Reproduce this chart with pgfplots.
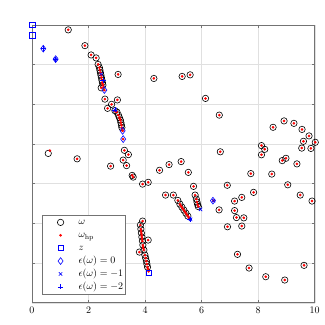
\documentclass[border=0pt]{standalone}
\usepackage{pgfplots}
\pgfplotsset{compat=1.18}
\usetikzlibrary{plotmarks}

\definecolor{gridgray}{rgb}{0.88,0.88,0.88}
\definecolor{axisgray}{rgb}{0.45,0.45,0.45}

\begin{document}
\begin{tikzpicture}
\begin{axis}[
	scale only axis,
	width=283pt,
	height=278pt,
	xmin=0, xmax=10,
	ymin=0, ymax=7,
	xtick={0,2,...,10},
	ytick={0,1,...,7},
	yticklabels={},
	grid=major,
	major grid style={gridgray, line width=0.4pt},
	tick align=inside,
	major tick length=2.8pt,
	tick style={axisgray, line width=0.5pt},
	axis line style={axisgray, line width=0.5pt},
	xticklabel style={yshift=-1pt},
	clip=false,
	legend cell align=left,
	legend image code/.code={
		\path (0pt,0pt) (34pt,0pt);
		\draw[#1] plot coordinates {(17pt,0pt)};
	},
	legend style={
		at={(0.034,0.030)}, anchor=south west,
		draw=axisgray, fill=white, line width=0.5pt,
		font=\normalsize,
		row sep=1.3pt,
		inner xsep=1.5pt, inner ysep=1.5pt,
		nodes={inner sep=0.8pt, text height=7.5pt, text depth=2.5pt},
	},
]
% omega
\addplot[only marks, mark=o, mark size=3.2pt, mark options={black, line width=0.6pt}] coordinates {
(1.283,6.877) (1.873,6.479) (2.092,6.244) (2.269,6.169) (2.339,6.005)
(2.385,5.924) (2.403,5.861) (2.420,5.799) (2.438,5.736) (2.456,5.673)
(2.473,5.610) (2.491,5.547) (2.509,5.484) (2.449,5.416) (2.580,5.131)
(3.021,5.111) (2.816,5.000) (2.675,4.899) (3.046,5.753) (4.311,5.652)
(2.933,4.841) (3.004,4.804) (3.057,4.728) (3.092,4.665) (3.127,4.602)
(3.145,4.539) (3.163,4.476) (3.180,4.413) (3.269,3.841) (3.410,3.733)
(3.226,3.594) (3.346,3.456) (2.781,3.443) (3.544,3.209) (3.580,3.166)
(3.912,2.990) (4.110,3.035) (4.512,3.338) (4.848,3.481) (5.276,3.557)
(5.530,3.285) (5.311,5.703) (5.594,5.743) (6.138,5.149) (6.625,4.728)
(6.661,3.804) (0.576,3.763) (1.597,3.627) (8.527,4.421) (8.915,4.582)
(9.265,4.521) (9.551,4.368) (9.799,4.204) (10.02,4.043) (9.601,4.068)
(9.541,3.897) (9.866,3.889) (8.117,3.960) (8.233,3.866) (8.117,3.728)
(8.982,3.640) (8.852,3.582) (9.371,3.499) (7.739,3.254) (8.481,3.242)
(6.908,2.960) (9.046,2.972) (7.837,2.781) (7.420,2.655) (7.166,2.562)
(9.488,2.713) (9.905,2.562) (6.618,2.340) (7.166,2.322) (7.233,2.146)
(7.491,2.139) (6.915,1.914) (7.420,1.932) (7.269,1.219) (7.678,0.874)
(8.269,0.655) (8.940,0.572) (9.622,0.942) (5.714,2.932) (5.770,2.713)
(5.813,2.612) (5.837,2.537) (5.859,2.474) (5.883,2.423) (4.724,2.713)
(5.000,2.713) (5.159,2.579) (5.230,2.486) (5.300,2.411) (5.371,2.335)
(5.442,2.259) (5.512,2.184) (3.912,2.058) (3.834,1.957) (3.852,1.856)
(3.869,1.756) (3.887,1.655) (3.905,1.554) (3.922,1.453) (4.110,1.579)
(3.799,1.277) (3.958,1.327) (3.993,1.202) (4.021,1.126) (4.046,1.050)
(4.064,0.975) (4.088,0.899)
};
\addlegendentry{$\omega$}
% omega_hp
\addplot[only marks, mark=*, mark size=1.1pt, mark options={red, draw=red}] coordinates {
(1.283,6.877) (1.873,6.479) (2.092,6.244) (2.269,6.169) (2.339,6.005)
(2.385,5.924) (2.403,5.861) (2.420,5.799) (2.438,5.736) (2.456,5.673)
(2.473,5.610) (2.491,5.547) (2.509,5.484) (2.449,5.416) (2.580,5.131)
(3.021,5.111) (2.816,5.000) (2.675,4.899) (3.046,5.753) (4.311,5.652)
(2.933,4.841) (3.004,4.804) (3.057,4.728) (3.092,4.665) (3.127,4.602)
(3.145,4.539) (3.163,4.476) (3.180,4.413) (3.269,3.841) (3.410,3.733)
(3.226,3.594) (3.346,3.456) (2.781,3.443) (3.544,3.209) (3.580,3.166)
(3.912,2.990) (4.110,3.035) (4.512,3.338) (4.848,3.481) (5.276,3.557)
(5.530,3.285) (5.311,5.703) (5.594,5.743) (6.138,5.149) (6.625,4.728)
(6.661,3.804) (0.636,3.834) (1.597,3.627) (8.527,4.421) (8.915,4.582)
(9.265,4.521) (9.551,4.368) (9.799,4.204) (10.02,4.043) (9.601,4.068)
(9.541,3.897) (9.866,3.889) (8.117,3.960) (8.233,3.866) (8.117,3.728)
(8.982,3.640) (8.852,3.582) (9.371,3.499) (7.739,3.254) (8.481,3.242)
(6.908,2.960) (9.046,2.972) (7.837,2.781) (7.420,2.655) (7.166,2.562)
(9.488,2.713) (9.905,2.562) (6.618,2.340) (7.166,2.322) (7.233,2.146)
(7.491,2.139) (6.915,1.914) (7.420,1.932) (7.269,1.219) (7.678,0.874)
(8.269,0.655) (8.940,0.572) (9.622,0.942) (5.714,2.932) (5.770,2.713)
(5.813,2.612) (5.837,2.537) (5.859,2.474) (5.883,2.423) (4.724,2.713)
(5.000,2.713) (5.159,2.579) (5.230,2.486) (5.300,2.411) (5.371,2.335)
(5.442,2.259) (5.512,2.184) (3.912,2.058) (3.834,1.957) (3.852,1.856)
(3.869,1.756) (3.887,1.655) (3.905,1.554) (3.922,1.453) (4.110,1.579)
(3.799,1.277) (3.958,1.327) (3.993,1.202) (4.021,1.126) (4.046,1.050)
(4.064,0.975) (4.088,0.899)
(5.265,2.449) (5.335,2.373) (5.406,2.297) (5.477,2.221) (5.540,2.160)
(5.565,2.134) (5.590,2.110) (4.100,0.860) (4.115,0.820) (4.125,0.790)
(3.930,1.410) (3.940,1.370) (3.860,1.806) (3.878,1.706) (3.896,1.604)
(2.500,5.515) (2.530,5.430) (2.562,5.360) (3.190,4.380) (3.205,4.332)
(3.226,4.123) (6.420,2.570) (2.950,4.822) (3.110,4.634)
};
\addlegendentry{$\omega_{\mathrm{hp}}$}
% z
\addplot[only marks, mark=square, mark size=2.6pt, mark options={blue, line width=0.6pt}] coordinates {
(0.01,7.000) (0.01,6.740) (4.134,0.761)
};
\addlegendentry{$z$}
% eps = 0
\addplot[only marks, mark=diamond, mark size=3.4pt, mark options={blue, line width=0.6pt}] coordinates {
(0.399,6.403) (0.837,6.139) (2.562,5.360) (3.205,4.332) (3.226,4.123) (6.400,2.572)
};
\addlegendentry{$\epsilon(\omega)=0$}
% eps = -1
\addplot[only marks, mark=x, mark size=2.4pt, mark options={blue, line width=0.6pt}] coordinates {
(0.837,6.139) (2.456,5.761) (2.933,4.861) (6.420,2.572) (5.961,2.353) (5.608,2.101)
};
\addlegendentry{$\epsilon(\omega)=-1$}
% eps = -2
\addplot[only marks, mark=+, mark size=2.6pt, mark options={blue, line width=0.6pt}] coordinates {
(0.399,6.403) (0.837,6.139) (2.509,5.610) (2.933,4.861) (5.583,2.101)
};
\addlegendentry{$\epsilon(\omega)=-2$}
\end{axis}
\path ([xshift=-32pt,yshift=-22.3pt]current axis.south west) rectangle ([xshift=10pt,yshift=25pt]current axis.north east);
\end{tikzpicture}
\end{document}
